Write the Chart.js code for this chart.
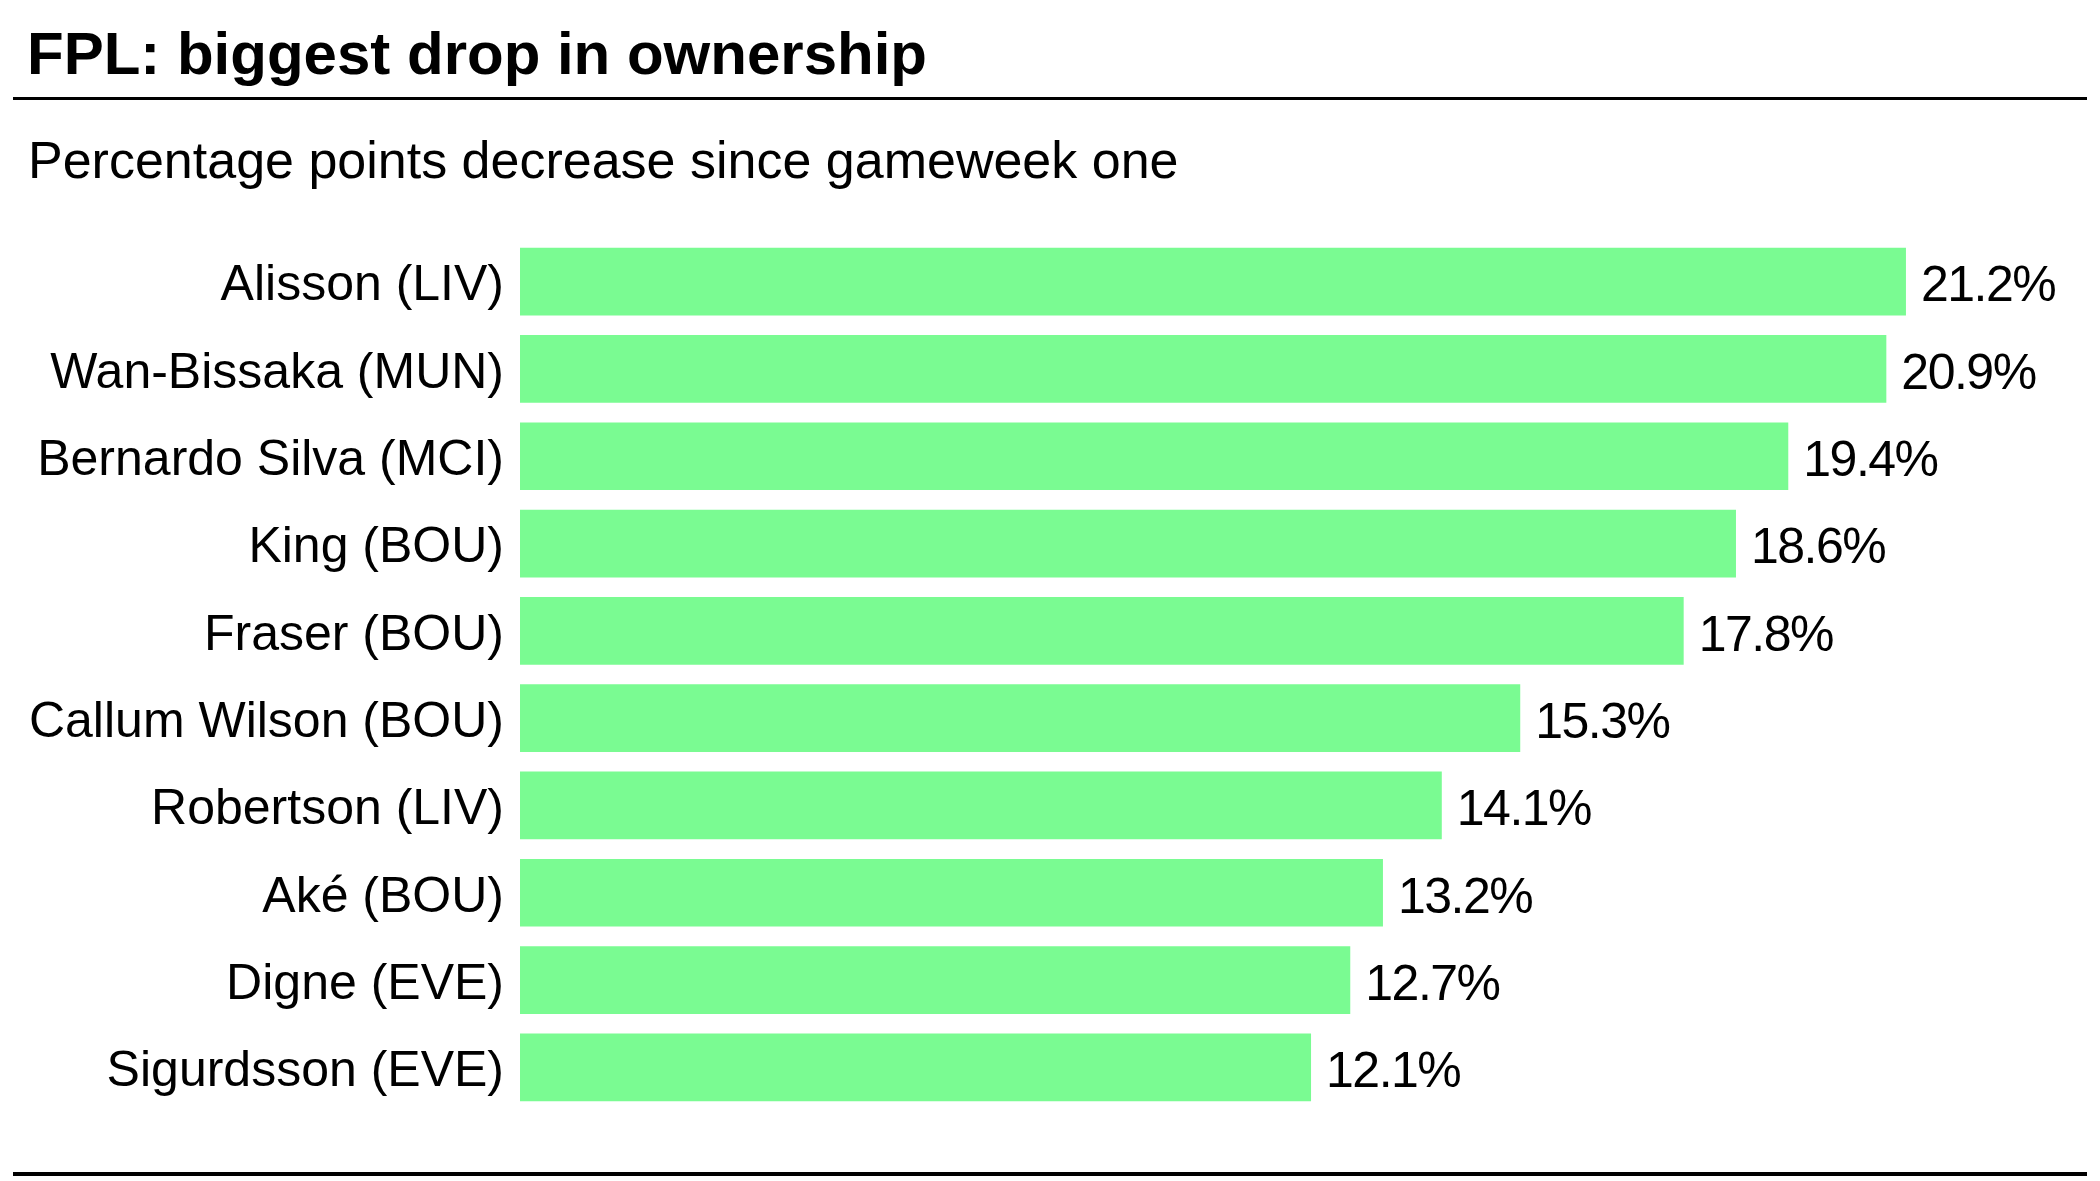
<!DOCTYPE html>
<html>
<head>
<meta charset="utf-8">
<script src="https://cdn.jsdelivr.net/npm/chart.js@4/dist/chart.umd.min.js"></script>
<style>
  html, body { margin: 0; padding: 0; background: #fff; }
  #wrap { position: relative; width: 2100px; height: 1181px; overflow: hidden; background: #fff; font-family: "Liberation Sans", Arial, sans-serif; color: #000; }
  #title { position: absolute; left: 27px; top: 19px; margin: 0; font-size: 60px; font-weight: bold; line-height: 70px; white-space: nowrap; letter-spacing: 0; }
  #sub { position: absolute; left: 28px; top: 130px; margin: 0; font-size: 52px; font-weight: normal; line-height: 60px; white-space: nowrap; letter-spacing: 0; }
  .rule { position: absolute; left: 13px; width: 2074px; background: #000; }
  #r1 { top: 97px; height: 3px; }
  #r2 { top: 1172px; height: 4px; }
  #c { position: absolute; left: 0; top: 0; }
</style>
</head>
<body>
<div id="wrap">
  <h1 id="title">FPL: biggest drop in ownership</h1>
  <div class="rule" id="r1"></div>
  <p id="sub">Percentage points decrease since gameweek one</p>
  <canvas id="c" width="2100" height="1181"></canvas>
  <div class="rule" id="r2"></div>
</div>
<script>
const players = ["Alisson (LIV)", "Wan-Bissaka (MUN)", "Bernardo Silva (MCI)", "King (BOU)", "Fraser (BOU)", "Callum Wilson (BOU)", "Robertson (LIV)", "Aké (BOU)", "Digne (EVE)", "Sigurdsson (EVE)"];
const drop = [21.2, 20.9, 19.4, 18.6, 17.8, 15.3, 14.1, 13.2, 12.7, 12.1];
const valueLabels = ["21.2%", "20.9%", "19.4%", "18.6%", "17.8%", "15.3%", "14.1%", "13.2%", "12.7%", "12.1%"];
const axisMax = 24;

const FONT = '"Liberation Sans", Arial, sans-serif';

const valueLabelPlugin = {
  id: 'valueLabels',
  afterDatasetsDraw(chart) {
    const ctx = chart.ctx;
    const meta = chart.getDatasetMeta(0);
    ctx.save();
    ctx.font = '50px ' + FONT;
    ctx.fillStyle = '#000';
    ctx.textAlign = 'left';
    ctx.textBaseline = 'middle';
    if ('letterSpacing' in ctx) ctx.letterSpacing = '-1.5px';
    meta.data.forEach((bar, i) => {
      ctx.fillText(valueLabels[i], bar.x + 15, bar.y + 6);
    });
    ctx.restore();
  }
};

new Chart(document.getElementById('c'), {
  type: 'bar',
  data: {
    labels: players,
    datasets: [{
      data: drop,
      backgroundColor: 'rgb(122,251,146)',
      borderWidth: 0,
      barPercentage: 0.775,
      categoryPercentage: 1.0
    }]
  },
  options: {
    indexAxis: 'y',
    responsive: false,
    animation: false,
    devicePixelRatio: 1,
    layout: { padding: { left: 0, right: 11, top: 238, bottom: 70 } },
    plugins: {
      legend: { display: false },
      tooltip: { enabled: false },
      title: { display: false }
    },
    scales: {
      x: {
        display: false,
        min: 0,
        max: axisMax
      },
      y: {
        grid: { display: false, drawTicks: false },
        border: { display: false },
        ticks: {
          color: '#000',
          padding: 16,
          labelOffset: 5,
          font: { family: FONT, size: 50 }
        },
        afterFit(scale) { scale.width = 520; }
      }
    }
  },
  plugins: [valueLabelPlugin]
});
</script>
</body>
</html>
